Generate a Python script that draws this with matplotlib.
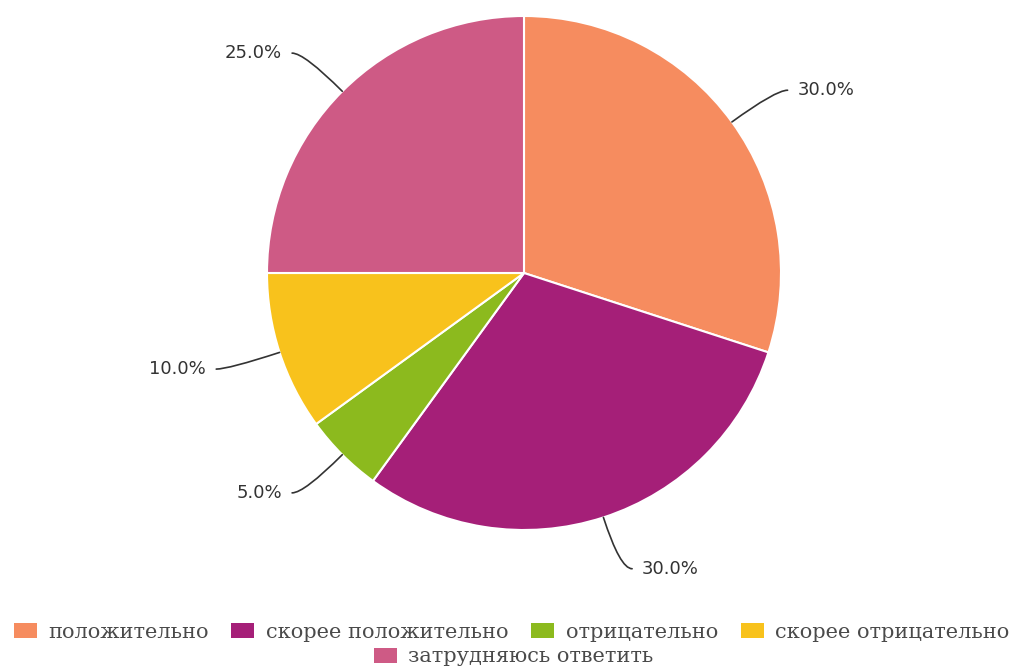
import numpy as np
import matplotlib.pyplot as plt
from matplotlib.patches import Patch

labels = ["положительно", "скорее положительно", "отрицательно",
          "скорее отрицательно", "затрудняюсь ответить"]
values = [30, 30, 5, 10, 25]
colors = ["#F68C5F", "#A51F78", "#8CBA1E", "#F8C21C", "#CE5A85"]

W, H = 1017, 668
fig = plt.figure(figsize=(W / 100, H / 100), dpi=100)
ax = fig.add_axes([0, 0, 1, 1])
ax.set_xlim(0, W)
ax.set_ylim(0, H)
ax.set_aspect("equal")
ax.axis("off")

wedges, _ = ax.pie(values, colors=colors, startangle=90, counterclock=False,
                   center=(524, H - 273), radius=257,
                   wedgeprops=dict(edgecolor="white", linewidth=1.5))
ax.set_xlim(0, W)
ax.set_ylim(0, H)

total = sum(values)
for w, v in zip(wedges, values):
    mid = (w.theta1 + w.theta2) / 2
    a = np.deg2rad(mid)
    cx, cy = w.center
    r = w.r
    right = np.cos(a) >= 0
    sgn = 1 if right else -1
    edge = (cx + r * np.cos(a), cy + r * np.sin(a))
    # radial part then a short horizontal part, smoothed
    knee = (cx + 1.21 * r * np.cos(a), cy + 1.21 * r * np.sin(a))
    end = (knee[0] + sgn * 12, knee[1])
    ax.annotate("", xy=edge, xytext=end,
                arrowprops=dict(arrowstyle="-", color="#333333", lw=1.2,
                                shrinkA=0, shrinkB=0,
                                connectionstyle=f"angle3,angleA=0,angleB={mid}"))
    ax.text(end[0] + sgn * 10, end[1], f"{100 * v / total:.1f}%",
            ha="left" if right else "right", va="center",
            fontsize=13, color="#333333", family="DejaVu Sans")

handles = [Patch(facecolor=c, edgecolor="none") for c in colors]
prop = dict(family="DejaVu Serif", size=15)
fig.legend(handles[:4], labels[:4], loc="center",
           bbox_to_anchor=(0.503, 1 - 632 / H), ncol=4, frameon=False,
           prop=prop, handlelength=1.1, handleheight=0.7,
           handletextpad=0.55, columnspacing=1.1, labelcolor="#4a4a4a")
fig.legend(handles[4:], labels[4:], loc="center",
           bbox_to_anchor=(0.505, 1 - 657 / H), ncol=1, frameon=False,
           prop=prop, handlelength=1.1, handleheight=0.7,
           handletextpad=0.55, labelcolor="#4a4a4a")

fig.savefig("out.png", dpi=100, facecolor="white")
